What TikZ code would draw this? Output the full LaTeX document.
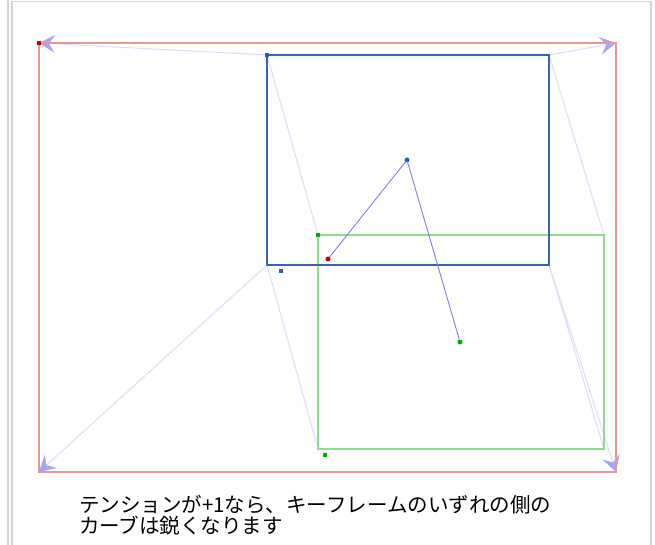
\documentclass[tikz,border=0pt]{standalone}
\usepackage{fontspec}
\newfontfamily\jpfont{Noto Sans CJK JP}
\usetikzlibrary{arrows.meta}
\definecolor{keyred}{RGB}{232,150,150}
\definecolor{keyblue}{RGB}{55,100,175}
\definecolor{keygreen}{RGB}{140,222,140}
\definecolor{trail}{RGB}{220,220,250}
\definecolor{tipc}{RGB}{168,168,242}
\definecolor{spoke}{RGB}{125,125,232}
\definecolor{framec}{RGB}{212,212,212}
\tikzset{marker/.style={rectangle,inner sep=0pt,minimum size=4.5pt},
  knot/.style={circle,inner sep=0pt,minimum size=5pt}}

\begin{document}
\begin{tikzpicture}[x=1pt,y=-1pt,>={Stealth[length=16pt,width=18pt,inset=6pt,color=tipc]}]
  \useasboundingbox (0,0) rectangle (655,545);
  % page frame
  \draw[framec,line width=1.5pt] (8,0) -- (8,545);
  \draw[framec,line width=1.5pt] (12,545) -- (12,1.5) -- (651,1.5) -- (651,545);
  % key frame corners
  \coordinate (r1) at (39,43);   \coordinate (r2) at (616,43);
  \coordinate (r3) at (616,472); \coordinate (r4) at (39,472);
  \coordinate (b1) at (267,55);  \coordinate (b2) at (549,55);
  \coordinate (b3) at (549,265); \coordinate (b4) at (267,265);
  \coordinate (g1) at (318,235); \coordinate (g2) at (604,235);
  \coordinate (g3) at (604,449); \coordinate (g4) at (318,449);
  % corner trails
  \foreach \i in {1,...,4}{
    \draw[trail,line width=1pt] (g\i) -- (b\i);
    \draw[trail,line width=1pt,->] (b\i) -- (r\i);
  }
  \draw[keyred,line width=1.5pt] (r1) -- (r2) -- (r3) -- (r4) -- cycle;
  \draw[keygreen,line width=1.5pt] (g1) -- (g2) -- (g3) -- (g4) -- cycle;
  \draw[keyblue,line width=1.9pt] (b1) -- (b2) -- (b3) -- (b4) -- cycle;
  % centre points
  \node[knot,fill={rgb,255:red,35;green,95;blue,200}] (pb) at (407,160) {};
  \node[knot,fill={rgb,255:red,200;green,0;blue,0}] (pr) at (328,259) {};
  \node[knot,fill={rgb,255:red,0;green,170;blue,0}] (pg) at (460,342) {};
  \draw[spoke,line width=0.9pt] (pb) -- (pr);
  \draw[spoke,line width=0.9pt] (pb) -- (pg);
  % corner markers
  \node[marker,fill={rgb,255:red,190;green,0;blue,0}] (mr) at (r1) {};
  \node[marker,fill={rgb,255:red,35;green,95;blue,200}] (mb) at (b1) {};
  \node[marker,fill={rgb,255:red,0;green,170;blue,0}] (mg) at (g1) {};
  \node[marker,fill={rgb,255:red,35;green,95;blue,200}] (ob) at (281,271) {};
  \node[marker,fill={rgb,255:red,0;green,170;blue,0}] (og) at (325,455) {};
  % caption
  \node[anchor=north west,align=left,inner sep=0pt,
    font=\jpfont\fontsize{20.5pt}{20.5pt}\selectfont] (cap) at (79,495)
    {テンションが+1なら、キーフレームのいずれの側の\\カーブは鋭くなります};
\end{tikzpicture}
\end{document}
